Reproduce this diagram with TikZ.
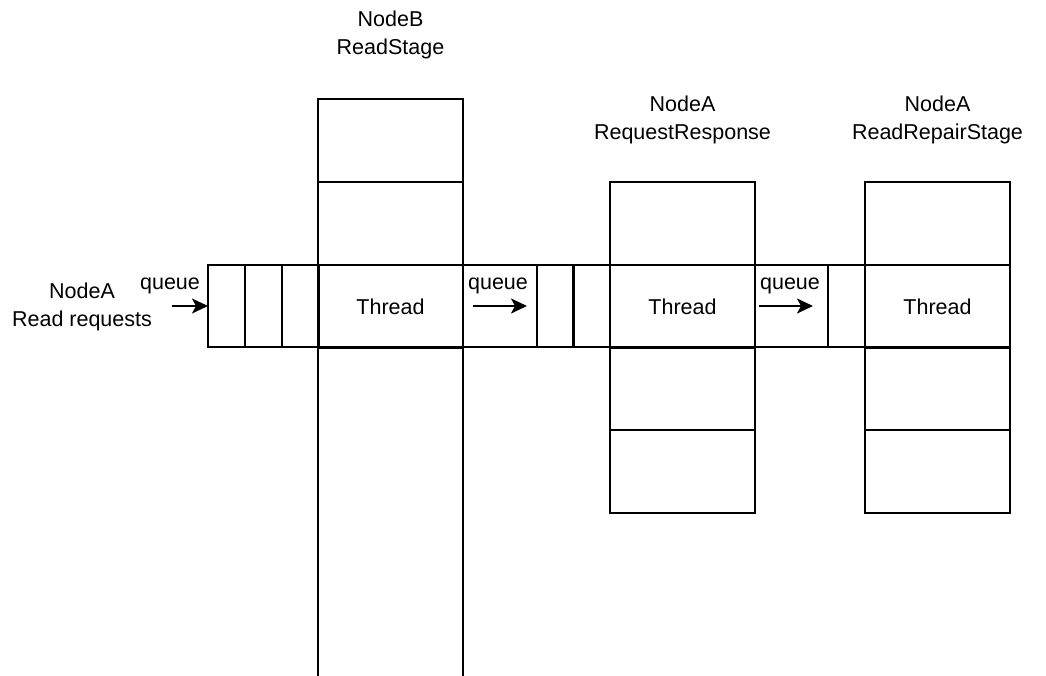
\documentclass[tikz,border=0pt]{standalone}
\usepackage{fontspec}
\setmainfont{Liberation Sans}
\usetikzlibrary{arrows.meta,positioning}
\tikzset{
  stagecell/.style={
    rectangle,
    draw=black,
    line width=2pt,
    anchor=north west,
    inner sep=0pt,
    outer sep=0pt,
    minimum width=145pt,
    minimum height=83pt,
    font=\fontsize{21.5}{28}\selectfont
  },
  queuecell/.style={
    rectangle,
    draw=black,
    line width=2pt,
    anchor=north west,
    inner sep=0pt,
    outer sep=0pt,
    minimum width=37pt,
    minimum height=82pt
  },
  stagelabel/.style={
    align=center,
    inner sep=0pt,
    font=\fontsize{21.5}{28}\selectfont
  },
  queuearrow/.style={
    -{Stealth[length=16pt,width=15pt,inset=4pt]},
    line width=2pt,
    draw=black
  }
}

\begin{document}
\begin{tikzpicture}[x=1pt,y=-1pt]
\useasboundingbox (0,0) rectangle (1046,675);

\node[stagecell, minimum height=640pt] (readcol) at (318,99) {};
\node[stagecell] (readtop) at (318,99) {};
\node[stagecell] (readmid) at (318,182) {};
\foreach \y in {182,347,430} {
  \node[stagecell] (resp\y) at (610,\y) {};
  \node[stagecell] (repair\y) at (865,\y) {};
}

\node[queuecell, minimum width=802pt] (strip) at (208,265) {};
\foreach \x/\n in {208/q1,245/q2,282/q3,537/q4,573/q5,828/q6}
  \node[queuecell, minimum width=36.5pt] (\n) at (\x,265) {};
\node[stagecell] (readthread) at (318,265) {Thread};
\node[stagecell] (respthread) at (610,265) {Thread};
\node[stagecell] (repairthread) at (865,265) {Thread};

\node[stagelabel] (readstage) at (390.5,35) {NodeB\\ReadStage};
\node[stagelabel] (reqresp) at (682.5,120) {NodeA\\RequestResponse};
\node[stagelabel] (readrepair) at (937.5,120) {NodeA\\ReadRepairStage};
\node[stagelabel] (readreq) at (82,307) {NodeA\\Read requests};

\node[stagelabel] (queue1) at (170,286) {queue};
\node[stagelabel] (queue2) at (498,286) {queue};
\node[stagelabel] (queue3) at (790,286) {queue};

\coordinate (in1) at (172,306);
\coordinate (in2) at (473,306);
\coordinate (out2) at (527,306);
\coordinate (in3) at (759,306);
\coordinate (out3) at (813,306);

\draw[queuearrow] (in1) -- (q1.west);
\draw[queuearrow] (in2) -- (out2);
\draw[queuearrow] (in3) -- (out3);
\end{tikzpicture}
\end{document}
